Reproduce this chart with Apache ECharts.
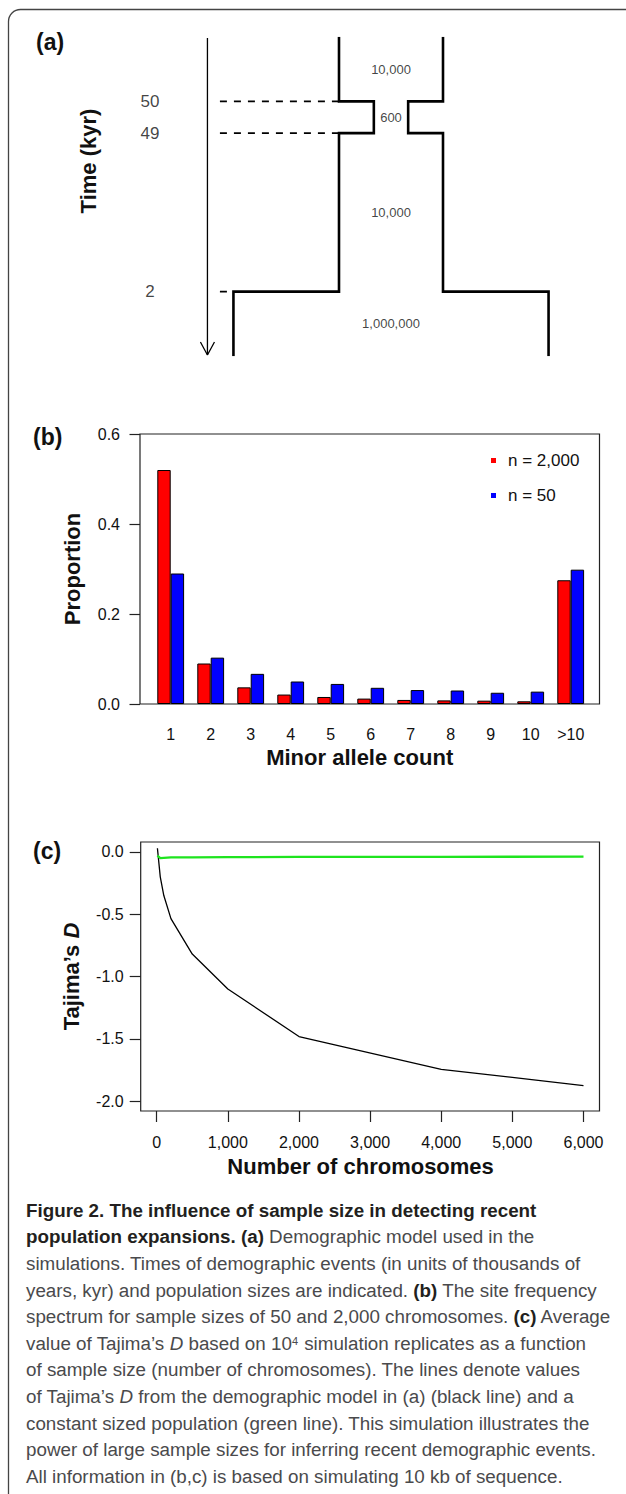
<!DOCTYPE html>
<html>
<head>
<meta charset="utf-8">
<script src="https://cdn.jsdelivr.net/npm/echarts@6/dist/echarts.min.js"></script>
<style>
html,body{margin:0;padding:0;background:#fff;}
#chart{width:626px;height:1494px;}
</style>
</head>
<body>
<div id="chart"></div>
<script>
// ---------- DATA ----------
// Panel (a): demographic model (schematic)
const eventTimes = [50, 49, 2];                 // kyr
const eventDepth = [0.2, 0.3, 0.8];             // schematic position on the time arrow
const popSizes = ['10,000', '600', '10,000', '1,000,000'];
const popHalfWidth = [1, 0.33, 1, 3.03];        // schematic relative widths

// Panel (b): site frequency spectrum
const categories = ['1', '2', '3', '4', '5', '6', '7', '8', '9', '10', '>10'];
const sfsN2000 = [0.520, 0.090, 0.037, 0.021, 0.0156, 0.012, 0.009, 0.008, 0.0074, 0.006, 0.275];
const sfsN50   = [0.290, 0.103, 0.067, 0.050, 0.0446, 0.036, 0.031, 0.030, 0.025, 0.0275, 0.2985];
const seriesNames = ['n = 2,000', 'n = 50'];

// Panel (c): Tajima's D vs sample size
const sampleSizes     = [10, 50, 100, 200, 500, 1000, 2000, 4000, 6000];
const tajimaExpansion = [0.03, -0.20, -0.35, -0.535, -0.82, -1.10, -1.482, -1.745, -1.876];
const tajimaConstant  = [-0.03, -0.05, -0.048, -0.044, -0.043, -0.042, -0.040, -0.039, -0.038];
const chromTicks  = [0, 1000, 2000, 3000, 4000, 5000, 6000];
const tajimaTicks = [-2, -1.5, -1, -0.5, 0];
const propTicks   = [0, 0.2, 0.4, 0.6];

// ---------- STYLE ----------
const FONT = '"Liberation Sans", Arial, Helvetica, sans-serif';
const INK = '#111';
const tickStyle = {color: '#222', width: 1.2};
const labelStyle = {fontFamily: FONT, fontSize: 16, color: INK};
const titleStyle = {fontFamily: FONT, fontSize: 22, fontWeight: 'bold', color: INK};
const noLine = {show: false, onZero: false};

// Panel (a) schematic axis units
const A_UNIT = 52, A_CENTER = 391;
const aMin = -A_CENTER / A_UNIT, aMax = (626 - A_CENTER) / A_UNIT;
const arrowX = -3.53, dashStart = -3.29, timeLabelX = -4.635;

const bounds = [0, ...eventDepth, 1];
function wall(sign) {
  const pts = [];
  popHalfWidth.forEach((w, i) => {
    pts.push([sign * w, bounds[i]]);
    pts.push([sign * w, bounds[i + 1]]);
  });
  return pts;
}
const aSeries = [];
[-1, 1].forEach(s => aSeries.push({
  type: 'line', xAxisIndex: 3, yAxisIndex: 3, data: wall(s), symbol: 'none', silent: true,
  lineStyle: {color: '#000', width: 2.6, join: 'miter', cap: 'square'}
}));
eventDepth.forEach((d, j) => aSeries.push({
  type: 'line', xAxisIndex: 3, yAxisIndex: 3, symbol: 'none', silent: true,
  data: [[dashStart, d], [-Math.max(popHalfWidth[j], popHalfWidth[j + 1]), d]],
  lineStyle: {color: '#000', width: 1.6, type: [7, 7]}
}));
aSeries.push({
  type: 'line', xAxisIndex: 3, yAxisIndex: 3, symbol: 'none', silent: true,
  data: [[arrowX, 0], [arrowX, 1]], lineStyle: {color: '#000', width: 1.3}
});
aSeries.push({
  type: 'line', xAxisIndex: 3, yAxisIndex: 3, symbol: 'none', silent: true,
  data: [[arrowX - 0.135, 1 - 0.041], [arrowX, 1], [arrowX + 0.135, 1 - 0.041]],
  lineStyle: {color: '#000', width: 1.3}
});
aSeries.push({
  type: 'scatter', xAxisIndex: 3, yAxisIndex: 3, symbolSize: 1, silent: true,
  itemStyle: {color: 'rgba(0,0,0,0)'},
  data: popSizes.map((p, i) => ({name: p, value: [0, (bounds[i] + bounds[i + 1]) / 2]})),
  label: {show: true, position: 'inside', formatter: '{b}', fontFamily: FONT, fontSize: 13, color: INK}
});
aSeries.push({
  type: 'scatter', xAxisIndex: 3, yAxisIndex: 3, symbolSize: 1, silent: true,
  itemStyle: {color: 'rgba(0,0,0,0)'},
  data: eventTimes.map((t, j) => ({name: String(t), value: [timeLabelX, eventDepth[j]]})),
  label: {show: true, position: 'inside', formatter: '{b}', fontFamily: FONT, fontSize: 17, color: INK}
});

// ---------- CAPTION ----------
const captionLines = [
  '{b|Figure 2. The influence of sample size in detecting recent}',
  '{b|population expansions. (a)}{r| Demographic model used in the}',
  '{r|simulations. Times of demographic events (in units of thousands of}',
  '{r|years, kyr) and population sizes are indicated. }{b|(b)}{r| The site frequency}',
  '{r|spectrum for sample sizes of 50 and 2,000 chromosomes. }{b|(c)}{r| Average}',
  '{r|value of Tajima’s }{i|D}{r| based on 10}{sup|4}{r| simulation replicates as a function}',
  '{r|of sample size (number of chromosomes). The lines denote values}',
  '{r|of Tajima’s }{i|D}{r| from the demographic model in (a) (black line) and a}',
  '{r|constant sized population (green line). This simulation illustrates the}',
  '{r|power of large sample sizes for inferring recent demographic events.}',
  '{r|All information in (b,c) is based on simulating 10 kb of sequence.}'
];
const CAP_FS = 18.8, CAP_LH = 26.6;
const capRich = {
  b: {fontFamily: FONT, fontSize: CAP_FS, fontWeight: 'bold', fill: '#231f20', lineHeight: CAP_LH},
  r: {fontFamily: FONT, fontSize: CAP_FS, fill: '#4a4a4c', lineHeight: CAP_LH},
  i: {fontFamily: FONT, fontSize: CAP_FS, fontStyle: 'italic', fill: '#4a4a4c', lineHeight: CAP_LH},
  sup: {fontFamily: FONT, fontSize: 11, fill: '#4a4a4c', lineHeight: CAP_LH, verticalAlign: 'top', padding: [5, 1, 0, 0]}
};

const chart = echarts.init(document.getElementById('chart'), null, {renderer: 'svg'});
chart.setOption({
  backgroundColor: '#fff',
  animation: false,
  grid: [
    {left: 150.7, right: 35.3, top: 434, height: 270},
    {left: 140, right: 26.5, top: 434, height: 270, show: true, borderColor: '#222', borderWidth: 1.2, backgroundColor: 'transparent'},
    {left: 140.7, right: 26.5, top: 842, height: 269, show: true, borderColor: '#222', borderWidth: 1.2, backgroundColor: 'transparent'},
    {left: 0, width: 626, top: 38, height: 317}
  ],
  legend: {
    data: seriesNames, orient: 'vertical', left: 486, top: 447, icon: 'rect',
    itemWidth: 5, itemHeight: 5, itemGap: 18, selectedMode: false,
    itemStyle: {borderWidth: 0},
    textStyle: {fontFamily: FONT, fontSize: 17, color: INK, padding: [0, 0, 0, 7]}
  },
  xAxis: [
    {gridIndex: 0, type: 'category', data: categories,
     axisLine: noLine,
     axisTick: {alignWithLabel: true, length: 10, lineStyle: tickStyle},
     axisLabel: Object.assign({margin: 22}, labelStyle),
     name: 'Minor allele count', nameLocation: 'middle', nameGap: 42,
     nameTextStyle: Object.assign({padding: [0, 22, 0, 0]}, titleStyle)},
    {gridIndex: 1, type: 'value', show: false, min: 0, max: 1, axisLine: noLine},
    {gridIndex: 2, type: 'value', min: -225, max: 6225,
     axisLine: noLine, splitLine: {show: false},
     axisTick: {show: true, customValues: chromTicks, length: 11, lineStyle: tickStyle},
     axisLabel: Object.assign({customValues: chromTicks, margin: 23,
       formatter: v => Number(v).toLocaleString('en-US')}, labelStyle),
     name: 'Number of chromosomes', nameLocation: 'middle', nameGap: 44,
     nameTextStyle: Object.assign({padding: [0, 19, 0, 0]}, titleStyle)},
    {gridIndex: 3, type: 'value', show: false, min: aMin, max: aMax, axisLine: noLine}
  ],
  yAxis: [
    {gridIndex: 0, type: 'value', show: false, min: 0, max: 0.6, axisLine: noLine},
    {gridIndex: 1, type: 'value', min: 0, max: 0.6,
     axisLine: noLine, splitLine: {show: false},
     axisTick: {show: true, customValues: propTicks, length: 10.5, lineStyle: tickStyle},
     axisLabel: Object.assign({customValues: propTicks, margin: 20, formatter: v => Number(v).toFixed(1)}, labelStyle),
     name: 'Proportion', nameLocation: 'middle', nameGap: 57, nameRotate: 90,
     nameTextStyle: titleStyle},
    {gridIndex: 2, type: 'value', min: -2.08, max: 0.08,
     axisLine: noLine, splitLine: {show: false},
     axisTick: {show: true, customValues: tajimaTicks, length: 11, lineStyle: tickStyle},
     axisLabel: Object.assign({customValues: tajimaTicks, margin: 17, formatter: v => Number(v).toFixed(1)}, labelStyle),
     name: '{b|Tajima’s }{i|D}', nameLocation: 'middle', nameGap: 58, nameRotate: 90,
     nameTextStyle: Object.assign({
       rich: {
         b: {fontFamily: FONT, fontSize: 22, fontWeight: 'bold', color: INK},
         i: {fontFamily: FONT, fontSize: 22, fontWeight: 'bold', fontStyle: 'italic', color: INK}
       }}, titleStyle)},
    {gridIndex: 3, type: 'value', show: false, min: 0, max: 1, inverse: true, axisLine: noLine}
  ],
  series: [
    {name: seriesNames[0], type: 'bar', xAxisIndex: 0, yAxisIndex: 0, data: sfsN2000,
     barGap: '0%', barCategoryGap: '33%',
     itemStyle: {color: '#ff0000', borderColor: '#000', borderWidth: 1}},
    {name: seriesNames[1], type: 'bar', xAxisIndex: 0, yAxisIndex: 0, data: sfsN50,
     barGap: '0%', barCategoryGap: '33%',
     itemStyle: {color: '#0000ff', borderColor: '#000', borderWidth: 1}},
    {name: 'Expansion model', type: 'line', xAxisIndex: 2, yAxisIndex: 2, symbol: 'none',
     data: sampleSizes.map((x, i) => [x, tajimaExpansion[i]]),
     lineStyle: {color: '#000', width: 1.3}},
    {name: 'Constant size', type: 'line', xAxisIndex: 2, yAxisIndex: 2, symbol: 'none',
     data: sampleSizes.map((x, i) => [x, tajimaConstant[i]]),
     lineStyle: {color: '#1ee41e', width: 2.3}},
    ...aSeries
  ],
  graphic: [
    {type: 'rect', silent: true, z: -10,
     shape: {x: 8.5, y: 9.5, width: 700, height: 1500, r: 12},
     style: {fill: 'none', stroke: '#444', lineWidth: 1.3}},
    {type: 'text', x: 36, y: 42, silent: true,
     style: {text: '(a)', fontFamily: FONT, fontSize: 23, fontWeight: 'bold', fill: INK, align: 'left', verticalAlign: 'middle'}},
    {type: 'text', x: 33, y: 437, silent: true,
     style: {text: '(b)', fontFamily: FONT, fontSize: 23, fontWeight: 'bold', fill: INK, align: 'left', verticalAlign: 'middle'}},
    {type: 'text', x: 33, y: 851, silent: true,
     style: {text: '(c)', fontFamily: FONT, fontSize: 23, fontWeight: 'bold', fill: INK, align: 'left', verticalAlign: 'middle'}},
    {type: 'text', x: 88, y: 161, rotation: Math.PI / 2, silent: true,
     style: {text: 'Time (kyr)', fontFamily: FONT, fontSize: 22, fontWeight: 'bold', fill: INK, align: 'center', verticalAlign: 'middle'}},
    {type: 'text', x: 26, y: 1197, silent: true,
     style: {text: captionLines.join('\n'), rich: capRich, fontFamily: FONT, fontSize: CAP_FS,
             lineHeight: CAP_LH, fill: '#4a4a4c', align: 'left', verticalAlign: 'top'}}
  ]
});
</script>
</body>
</html>
